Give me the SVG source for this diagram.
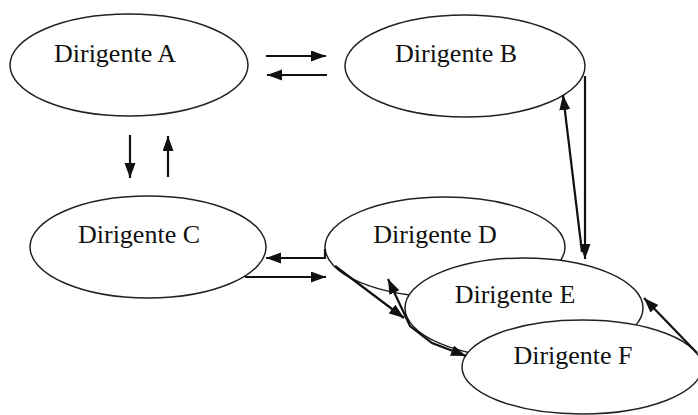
<svg xmlns="http://www.w3.org/2000/svg" width="698" height="415" viewBox="0 0 698 415">
<defs>
<marker id="ah" markerUnits="userSpaceOnUse" markerWidth="16" markerHeight="12" refX="15" refY="5.5" orient="auto-start-reverse">
<path d="M0,0 L15,5.5 L0,11 z" fill="#111"/>
</marker>
<style>
.n{fill:#fff;stroke:#222;stroke-width:1.5}
.t{font-family:"Liberation Serif","Times New Roman",serif;font-size:26px;fill:#111;text-anchor:middle}
.c{fill:none;stroke:#111;stroke-width:2.2}
</style>
</defs>
<rect width="698" height="415" fill="#fff"/>
<g id="nodeA"><ellipse class="n" cx="129" cy="65" rx="119" ry="51"/><text class="t" x="115" y="62">Dirigente A</text></g>
<g id="nodeB"><ellipse class="n" cx="465" cy="66" rx="120" ry="51"/><text class="t" x="456" y="62">Dirigente B</text></g>
<g id="nodeC"><ellipse class="n" cx="148" cy="247" rx="118" ry="51"/><text class="t" x="139" y="243">Dirigente C</text></g>
<g id="nodeD"><ellipse class="n" cx="445" cy="247" rx="120" ry="50"/><text class="t" x="435" y="243">Dirigente D</text></g>
<g id="nodeE"><ellipse class="n" cx="524" cy="308" rx="119" ry="50"/><text class="t" x="515" y="303">Dirigente E</text></g>
<g id="nodeF"><ellipse class="n" cx="582" cy="367" rx="120" ry="47"/><text class="t" x="573" y="364">Dirigente F</text></g>
<g id="connectors">
<line class="c" x1="266" y1="56" x2="326" y2="56" marker-end="url(#ah)"/>
<line class="c" x1="327" y1="75" x2="267" y2="75" marker-end="url(#ah)"/>
<line class="c" x1="130" y1="135" x2="130" y2="178" marker-end="url(#ah)"/>
<line class="c" x1="168" y1="177" x2="168" y2="136" marker-end="url(#ah)"/>
<polyline class="c" points="325,249 325,258 266,258" marker-end="url(#ah)"/>
<line class="c" x1="245" y1="277" x2="326" y2="277" marker-end="url(#ah)"/>
<polyline class="c" points="585,76 585,259" marker-end="url(#ah)"/>
<line class="c" x1="582" y1="252" x2="563" y2="95" marker-end="url(#ah)"/>
<line class="c" x1="335" y1="266" x2="404" y2="318" marker-end="url(#ah)"/>
<polyline class="c" points="388,279 410,326 432,343 466,356" marker-start="url(#ah)" marker-end="url(#ah)"/>
<line class="c" x1="697" y1="353" x2="644" y2="298" marker-end="url(#ah)"/>
</g>
</svg>
